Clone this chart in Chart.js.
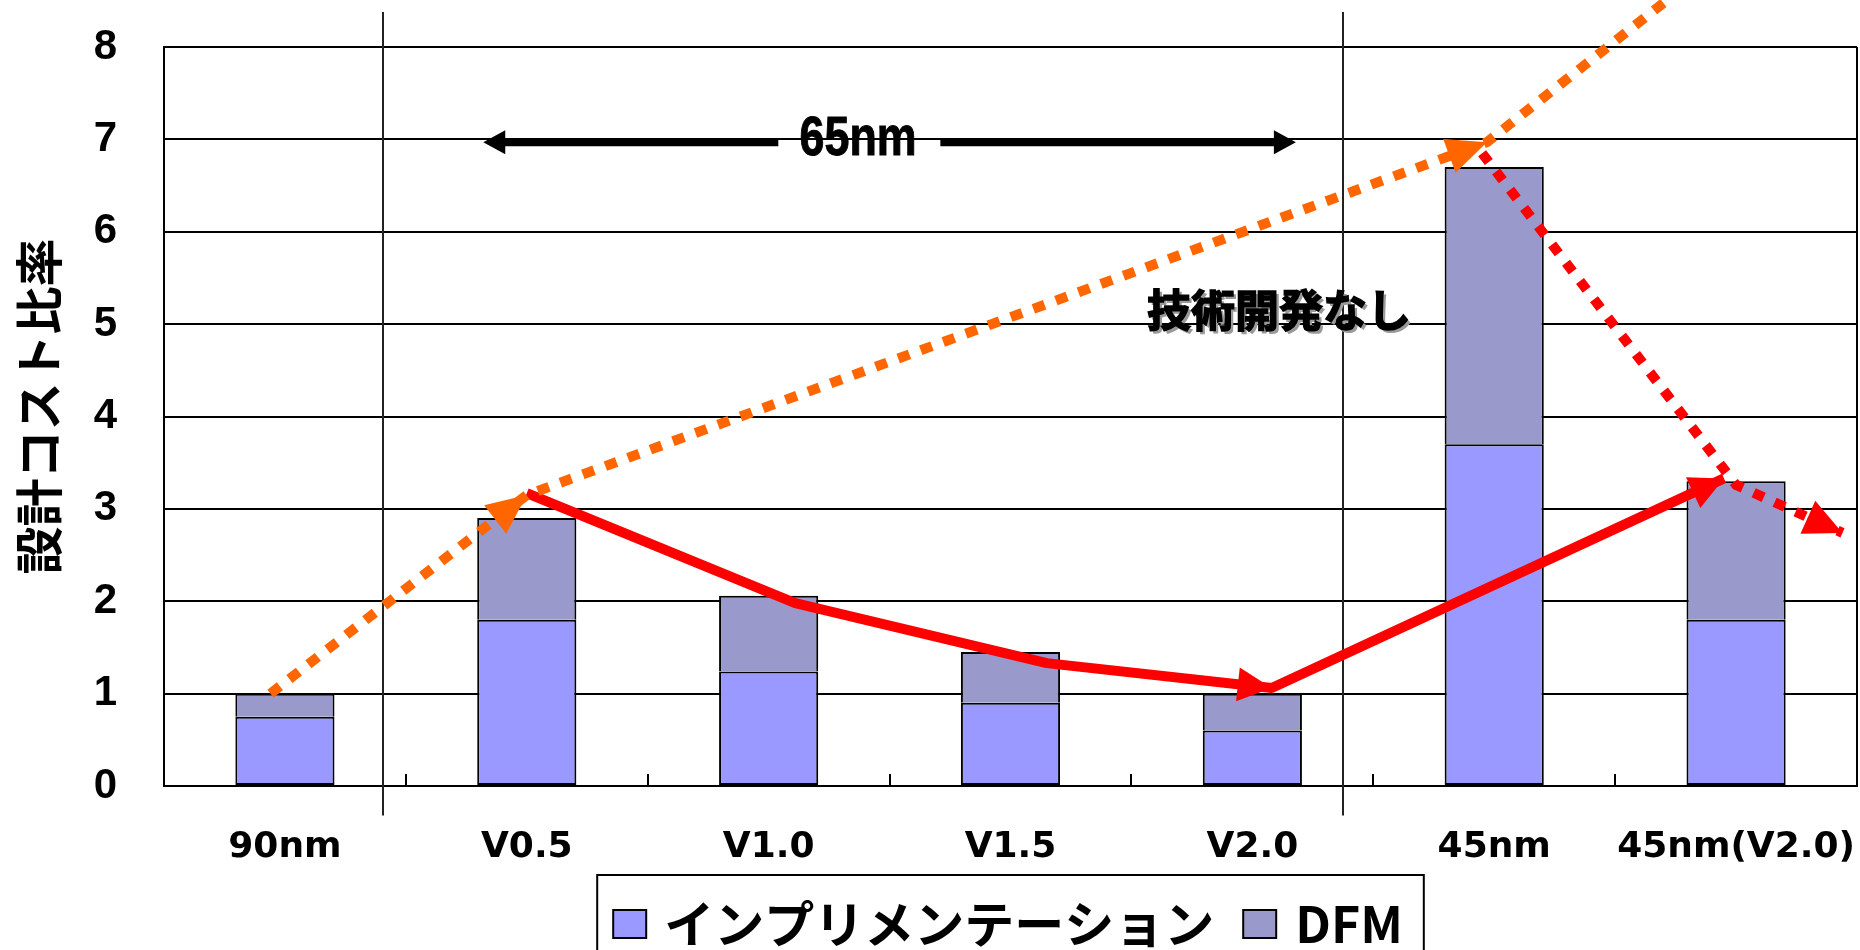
<!DOCTYPE html>
<html lang="ja">
<head>
<meta charset="utf-8">
<title>設計コスト比率</title>
<script src="https://cdn.jsdelivr.net/npm/chart.js"></script>
<style>
  html, body { margin: 0; padding: 0; background: #fff; }
  canvas { display: block; }
</style>
</head>
<body>
<canvas id="costchart" width="1860" height="950"></canvas>
<script>
var labelNode = ['90nm', 'V0.5', 'V1.0', 'V1.5', 'V2.0', '45nm', '45nm(V2.0)'];
var implCost = [0.75, 1.8, 1.24, 0.9, 0.6, 3.7, 1.8];
var dfmCost = [0.25, 1.1, 0.82, 0.55, 0.4, 3.0, 1.5];
var yTickMax = 8;

// trend paths, x = category position (0 = 90nm), y = cost ratio
var noDevTrend = [
    {x: -0.06, y: 1.0}, {x: 1.0, y: 3.15}, {x: 4.97, y: 6.97}, {x: 5.74, y: 8.56}
];
var devTrend = [
    {x: 1.0, y: 3.17}, {x: 2.11, y: 1.98}, {x: 3.15, y: 1.33}, {x: 4.08, y: 1.06}, {x: 5.95, y: 3.33}
];
var node45Trend = [
    {x: 4.95, y: 6.85}, {x: 6.0, y: 3.26}, {x: 6.44, y: 2.74}
];

// extra marks (same units as the trend paths)
var groupDividers = [0.405, 4.375];
var span65 = {from: 0.82, to: 4.18, gapFrom: 2.04, gapTo: 2.71, y: 6.97, text: '65nm', textX: 2.37};
var noDevNote = {x: 4.11, y: 5.15, text: '技術開発なし'};
var yTitle = '設計コスト比率';

var jpFont = '"Noto Sans CJK JP", "Noto Sans", sans-serif';

function xPix(chart, v) { return chart.scales.xl.getPixelForValue(v); }
function yPix(chart, v) { return chart.scales.yl.getPixelForValue(v); }

// keep label overhang from eating into the plot area
function noOverhang(scale) {
    scale.paddingTop = 0;
    scale.paddingBottom = 0;
    scale.paddingLeft = 0;
    scale.paddingRight = 0;
}

var decorations = {
    id: 'decorations',
    beforeDatasetsDraw: function (chart) {
        var ctx = chart.ctx, area = chart.chartArea;
        ctx.save();
        ctx.strokeStyle = '#000';
        ctx.lineWidth = 2;
        ctx.beginPath();
        // right frame edge
        ctx.moveTo(area.right, area.top);
        ctx.lineTo(area.right, area.bottom);
        // short ticks between categories
        for (var i = 0; i < labelNode.length - 1; i++) {
            var tx = Math.round(xPix(chart, i + 0.5));
            ctx.moveTo(tx, area.bottom);
            ctx.lineTo(tx, area.bottom - 12);
        }
        ctx.stroke();
        // group separators
        ctx.strokeStyle = '#222';
        ctx.beginPath();
        groupDividers.forEach(function (d) {
            var dx = Math.round(xPix(chart, d));
            ctx.moveTo(dx, yPix(chart, 8.38));
            ctx.lineTo(dx, yPix(chart, -0.32));
        });
        ctx.stroke();

        // rotated axis title, a little above the axis middle
        ctx.save();
        ctx.translate(39, (area.top + area.bottom) / 2 - 10);
        ctx.rotate(-Math.PI / 2);
        ctx.font = 'bold 48px ' + jpFont;
        ctx.fillStyle = '#000';
        ctx.textAlign = 'center';
        ctx.textBaseline = 'middle';
        ctx.fillText(yTitle, 0, 0);
        ctx.restore();

        ctx.restore();
    },
    afterDatasetsDraw: function (chart) {
        var ctx = chart.ctx, area = chart.chartArea;
        ctx.save();

        // arrow heads on the trend paths
        chart.data.datasets.forEach(function (ds, i) {
            if (!ds.arrowAt) return;
            var pts = chart.getDatasetMeta(i).data;
            ds.arrowAt.forEach(function (k) {
                var p = pts[k], q = pts[k - 1];
                var dx = p.x - q.x, dy = p.y - q.y, len = Math.hypot(dx, dy);
                var ux = dx / len, uy = dy / len;
                var bx = p.x - ux * ds.arrowLength, by = p.y - uy * ds.arrowLength;
                var hw = ds.arrowWidth / 2;
                ctx.fillStyle = ds.borderColor;
                ctx.beginPath();
                ctx.moveTo(p.x, p.y);
                ctx.lineTo(bx - uy * hw, by + ux * hw);
                ctx.lineTo(bx + uy * hw, by - ux * hw);
                ctx.closePath();
                ctx.fill();
            });
        });

        // 65nm span arrow
        var ay = yPix(chart, span65.y);
        var x1 = xPix(chart, span65.from), x2 = xPix(chart, span65.to);
        ctx.strokeStyle = '#000';
        ctx.fillStyle = '#000';
        ctx.lineWidth = 8;
        ctx.beginPath();
        ctx.moveTo(x1 + 18, ay);
        ctx.lineTo(xPix(chart, span65.gapFrom), ay);
        ctx.moveTo(xPix(chart, span65.gapTo), ay);
        ctx.lineTo(x2 - 18, ay);
        ctx.stroke();
        ctx.beginPath();
        ctx.moveTo(x1, ay);
        ctx.lineTo(x1 + 22, ay - 12);
        ctx.lineTo(x1 + 22, ay + 12);
        ctx.closePath();
        ctx.moveTo(x2, ay);
        ctx.lineTo(x2 - 22, ay - 12);
        ctx.lineTo(x2 - 22, ay + 12);
        ctx.closePath();
        ctx.fill();

        ctx.save();
        ctx.translate(xPix(chart, span65.textX), ay + 13);
        ctx.scale(0.8, 1);
        ctx.font = 'bold 56px "Liberation Sans", Arial, sans-serif';
        ctx.textAlign = 'center';
        ctx.textBaseline = 'alphabetic';
        ctx.lineWidth = 1;
        ctx.fillText(span65.text, 0, 0);
        ctx.strokeText(span65.text, 0, 0);
        ctx.restore();

        // note with drop shadow
        var nx = xPix(chart, noDevNote.x), ny = yPix(chart, noDevNote.y);
        ctx.font = 'bold 44px ' + jpFont;
        ctx.textAlign = 'center';
        ctx.textBaseline = 'middle';
        ctx.fillStyle = '#9a9a9a';
        ctx.fillText(noDevNote.text, nx + 3, ny + 3);
        ctx.fillStyle = '#000';
        ctx.strokeStyle = '#000';
        ctx.lineWidth = 1.5;
        ctx.fillText(noDevNote.text, nx, ny);
        ctx.strokeText(noDevNote.text, nx, ny);

        // legend box below the axis
        var items = chart.data.datasets.filter(function (ds) { return ds.type === 'bar'; });
        ctx.font = 'bold 50px ' + jpFont;
        ctx.textAlign = 'left';
        var w1 = ctx.measureText(items[0].label).width;
        var w2 = ctx.measureText(items[1].label).width;
        var boxW = 16 + 33 + 18 + w1 + 29 + 33 + 19 + w2 + 21;
        var left = (area.left + area.right) / 2 - boxW / 2;
        var top = 875, midY = 924;
        ctx.lineWidth = 2;
        ctx.strokeStyle = '#000';
        ctx.strokeRect(left, top, boxW, 120);
        var sx = left + 16;
        items.forEach(function (ds, n) {
            ctx.fillStyle = ds.backgroundColor;
            ctx.fillRect(sx, midY - 14, 33, 28);
            ctx.strokeRect(sx, midY - 14, 33, 28);
            ctx.fillStyle = '#000';
            ctx.fillText(ds.label, sx + 33 + (n === 0 ? 18 : 19), midY);
            sx += 33 + 18 + w1 + 29;
        });

        ctx.restore();
    }
};

var costChart = new Chart(document.getElementById('costchart'), {
    data: {
        labels: labelNode,
        datasets: [{
            type: 'line',
            label: '技術開発なし',
            data: noDevTrend,
            xAxisID: 'xl',
            yAxisID: 'yl',
            borderColor: '#FF6600',
            borderWidth: 10,
            borderDash: [12, 12],
            borderCapStyle: 'butt',
            pointRadius: 0,
            tension: 0,
            clip: false,
            order: 0,
            arrowAt: [1, 2],
            arrowLength: 40,
            arrowWidth: 36
        }, {
            type: 'line',
            label: '45nm',
            data: node45Trend,
            xAxisID: 'xl',
            yAxisID: 'yl',
            borderColor: '#FF0000',
            borderWidth: 10,
            borderDash: [11, 12],
            borderCapStyle: 'butt',
            pointRadius: 0,
            tension: 0,
            clip: false,
            order: 0,
            arrowAt: [2],
            arrowLength: 38,
            arrowWidth: 36
        }, {
            type: 'line',
            label: '技術開発',
            data: devTrend,
            xAxisID: 'xl',
            yAxisID: 'yl',
            borderColor: '#FF0000',
            borderWidth: 10,
            borderJoinStyle: 'round',
            pointRadius: 0,
            tension: 0,
            clip: false,
            order: 0,
            arrowAt: [3, 4],
            arrowLength: 34,
            arrowWidth: 34
        }, {
            type: 'bar',
            label: 'インプリメンテーション',
            data: implCost,
            stack: 'cost',
            grouped: false,
            backgroundColor: '#9999FF',
            borderColor: '#000',
            borderWidth: 2,
            borderSkipped: false,
            barPercentage: 0.41,
            categoryPercentage: 1,
            order: 1
        }, {
            type: 'bar',
            label: 'DFM',
            data: dfmCost,
            stack: 'cost',
            grouped: false,
            backgroundColor: '#9999CC',
            borderColor: '#000',
            borderWidth: {top: 2, right: 2, bottom: 0, left: 2},
            borderSkipped: false,
            barPercentage: 0.41,
            categoryPercentage: 1,
            order: 1
        }]
    },
    options: {
        responsive: false,
        animation: false,
        layout: {
            padding: {left: 0, top: 47, right: 3, bottom: 0}
        },
        scales: {
            x: {
                stacked: true,
                grid: {display: false},
                border: {display: true, color: '#000', width: 2},
                ticks: {
                    color: '#000',
                    padding: 32,
                    maxRotation: 0,
                    minRotation: 0,
                    autoSkip: false,
                    font: {family: '"DejaVu Sans", sans-serif', size: 36, weight: 'bold'}
                },
                afterFit: function (scale) {
                    scale.height = 164;
                    noOverhang(scale);
                }
            },
            y: {
                stacked: true,
                min: 0,
                max: yTickMax,
                ticks: {
                    stepSize: 1,
                    color: '#000',
                    padding: 47,
                    font: {family: '"Liberation Sans", Arial, sans-serif', size: 42, weight: 'bold'}
                },
                grid: {color: '#000', lineWidth: 2, drawTicks: false},
                border: {display: true, color: '#000', width: 2},
                afterFit: function (scale) {
                    scale.width = 164;
                    noOverhang(scale);
                }
            },
            xl: {
                type: 'linear',
                display: false,
                position: 'bottom',
                min: -0.5,
                max: labelNode.length - 0.5
            },
            yl: {
                type: 'linear',
                display: false,
                position: 'left',
                min: 0,
                max: yTickMax
            }
        },
        plugins: {
            legend: {display: false},
            tooltip: {enabled: false}
        }
    },
    plugins: [decorations]
});
</script>
</body>
</html>
